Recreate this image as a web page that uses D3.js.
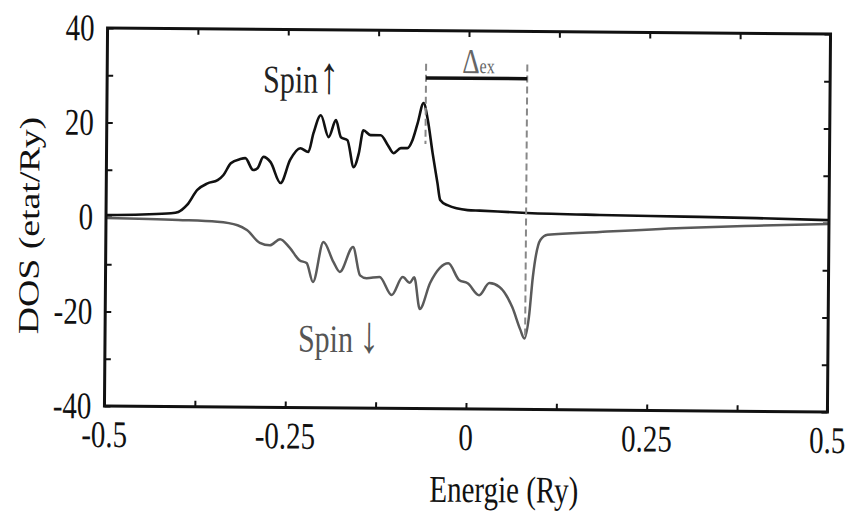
<!DOCTYPE html>
<html>
<head>
<meta charset="utf-8">
<script src="https://cdn.jsdelivr.net/npm/d3@7"></script>
<style>
  body { margin: 0; background: #fff; }
  svg text { font-family: "Liberation Serif", "DejaVu Serif", serif; }
</style>
</head>
<body>
<div id="my_chart"></div>
<script>
// densite d'etats
const upE = [-0.5, -0.45, -0.41, -0.40, -0.388, -0.374, -0.360, -0.346, -0.338, -0.328, -0.315, -0.308,
  -0.297, -0.291, -0.283, -0.273, -0.259, -0.246, -0.232, -0.221, -0.214, -0.204, -0.193, -0.183,
  -0.176, -0.167, -0.158, -0.151, -0.145, -0.135, -0.121, -0.111, -0.103, -0.093, -0.084, -0.077,
  -0.070, -0.062, -0.056, -0.049, -0.042, -0.038, -0.028, 0.0, 0.017, 0.082, 0.183, 0.3, 0.4, 0.5]
const upDOS = [0.4, 0.6, 0.9, 1.2, 2.7, 5.9, 7.3, 8.0, 9.1, 11.6, 12.5, 12.7,
  10.2, 10.6, 13.0, 11.9, 7.5, 12.4, 14.9, 14.1, 18.1, 21.9, 17.3, 20.9,
  17.3, 16.7, 11.0, 14.0, 18.8, 17.8, 17.8, 15.7, 14.0, 15.1, 15.1, 16.8,
  20.4, 24.7, 21.1, 14.1, 7.8, 4.2, 3.1, 2.1, 2.0, 1.6, 1.3, 1.1, 0.9, 0.6]

const downE = [-0.5, -0.4, -0.346, -0.318, -0.305, -0.287, -0.273, -0.259, -0.246, -0.232, -0.222, -0.213,
  -0.199, -0.185, -0.176, -0.158, -0.148, -0.139, -0.121, -0.104, -0.089, -0.079, -0.073, -0.065,
  -0.051, -0.026, -0.011, 0.001, 0.017, 0.031, 0.045, 0.063, 0.074, 0.080, 0.086, 0.091, 0.101, 0.111,
  0.183, 0.298, 0.4, 0.5]
const downDOS = [-0.2, -0.5, -0.8, -1.5, -2.5, -5.2, -5.7, -4.4, -6.1, -8.8, -9.4, -13.4,
  -4.9, -9.1, -11.2, -5.9, -11.9, -12.5, -12.2, -16.0, -12.2, -13.4, -12.2, -18.9,
  -13.4, -9.2, -12.7, -13.4, -15.9, -13.3, -14.1, -18.4, -23.0, -25.0, -20.5, -12.0, -4.1, -3.0,
  -2.3, -1.3, -0.7, -0.2]

const xTicks = [-0.5, -0.25, 0, 0.25, 0.5]
const xMinor = [-0.5, -0.375, -0.25, -0.125, 0, 0.125, 0.25, 0.375, 0.5]
const yTicks = [-40, -20, 0, 20, 40]
const yMinor = [-40, -30, -20, -10, 0, 10, 20, 30, 40]

// pics qui definissent le Delta_ex
const exLeft = -0.059
const exRight = 0.081
const exLevel = 30
const exTop = 33

const width = 850
const height = 515
const margin = {top: 31, right: 21, bottom: 106, left: 106}
const w = width - margin.left - margin.right
const h = height - margin.top - margin.bottom
const sy = 1.3 // le scan est etire verticalement
const serif = "'Liberation Serif', 'DejaVu Serif', serif"

const svg = d3.select("#my_chart")
  .append("svg")
    .attr("width", width)
    .attr("height", height)
    .attr("font-family", serif)

const root = svg.append("g").attr("transform", "rotate(0.47 467 219)")
const g = root.append("g").attr("transform", `translate(${margin.left},${margin.top})`)

const x = d3.scaleLinear().domain([-0.5, 0.5]).range([0, w])
const y = d3.scaleLinear().domain([-40, 40]).range([h, 0])

// ticks vers l'interieur sur les 4 cotes
const noDomain = a => a.select(".domain").remove()
g.append("g").attr("transform", `translate(0,${h})`)
  .call(d3.axisBottom(x).tickValues(xMinor).tickSize(-6).tickFormat(""))
  .call(noDomain)
g.append("g")
  .call(d3.axisTop(x).tickValues(xMinor).tickSize(-6).tickFormat(""))
  .call(noDomain)
g.append("g")
  .call(d3.axisLeft(y).tickValues(yMinor).tickSize(-6).tickFormat(""))
  .call(noDomain)
g.append("g").attr("transform", `translate(${w},0)`)
  .call(d3.axisRight(y).tickValues(yMinor).tickSize(-6).tickFormat(""))
  .call(noDomain)
g.selectAll(".tick line").attr("stroke", "#111").attr("stroke-width", 2)

// labels des axes
g.selectAll(".xlab")
  .data(xTicks)
  .join("text")
    .attr("class", "xlab")
    .attr("transform", d => `translate(${x(d)},${h + 41}) scale(1,${sy})`)
    .attr("text-anchor", "middle")
    .attr("font-family", serif)
    .attr("font-size", 29)
    .attr("fill", "#111")
    .text(d => String(d))

g.selectAll(".ylab")
  .data(yTicks)
  .join("text")
    .attr("class", "ylab")
    .attr("transform", d => `translate(-13,${y(d) + 12.5}) scale(1,${sy})`)
    .attr("text-anchor", "end")
    .attr("font-family", serif)
    .attr("font-size", 29)
    .attr("fill", "#111")
    .text(d => String(d))

root.append("text")
  .attr("transform", `translate(506,502) scale(1,${sy})`)
  .attr("text-anchor", "middle")
  .attr("font-family", serif)
  .attr("font-size", 29)
  .attr("fill", "#111")
  .text("Energie (Ry)")

root.append("text")
  .attr("transform", `translate(39,229) scale(1,${sy}) rotate(-90)`)
  .attr("text-anchor", "middle")
  .attr("font-family", serif)
  .attr("font-size", 29)
  .attr("fill", "#111")
  .text("DOS (etat/Ry)")

// courbes
const line = d3.line()
  .x(d => x(d[0]))
  .y(d => y(d[1]))
  .curve(d3.curveMonotoneX)

g.append("path")
  .datum(d3.zip(downE, downDOS))
  .attr("d", line)
  .attr("fill", "none")
  .attr("stroke", "#5a5a5a")
  .attr("stroke-width", 2.5)
  .attr("stroke-linejoin", "round")

g.append("path")
  .datum(d3.zip(upE, upDOS))
  .attr("d", line)
  .attr("fill", "none")
  .attr("stroke", "#111")
  .attr("stroke-width", 2.6)
  .attr("stroke-linejoin", "round")

// Delta_ex
g.append("line")
  .attr("x1", x(exLeft)).attr("x2", x(exLeft))
  .attr("y1", y(exTop)).attr("y2", y(16))
  .attr("stroke", "#888").attr("stroke-width", 2).attr("stroke-dasharray", "7,4")
g.append("line")
  .attr("x1", x(exRight)).attr("x2", x(exRight))
  .attr("y1", y(exTop)).attr("y2", y(-25))
  .attr("stroke", "#888").attr("stroke-width", 2).attr("stroke-dasharray", "7,4")
g.append("line")
  .attr("x1", x(exLeft)).attr("x2", x(exRight))
  .attr("y1", y(exLevel)).attr("y2", y(exLevel))
  .attr("stroke", "#111").attr("stroke-width", 3.5)

const dex = root.append("text")
  .attr("transform", `translate(461,73) scale(1,${sy})`)
  .attr("font-family", serif)
  .attr("fill", "#666")
dex.append("tspan").attr("font-size", 27).text("Δ")
dex.append("tspan").attr("font-size", 16).text("ex")

// Spin labels
const sup = root.append("text")
  .attr("transform", `translate(262,94) scale(1,${sy})`)
  .attr("font-family", serif)
  .attr("font-size", 30)
  .attr("fill", "#222")
sup.append("tspan").text("Spin")
sup.append("tspan").attr("dx", 1).attr("font-size", 40).text("↑")

const sdn = root.append("text")
  .attr("transform", `translate(299,353) scale(1,${sy})`)
  .attr("font-family", serif)
  .attr("font-size", 30)
  .attr("fill", "#555")
sdn.append("tspan").text("Spin")
sdn.append("tspan").attr("dx", 6).attr("font-size", 40).text("↓")

// cadre
g.append("rect")
  .attr("width", w)
  .attr("height", h)
  .attr("fill", "none")
  .attr("stroke", "#111")
  .attr("stroke-width", 3)
</script>
</body>
</html>
